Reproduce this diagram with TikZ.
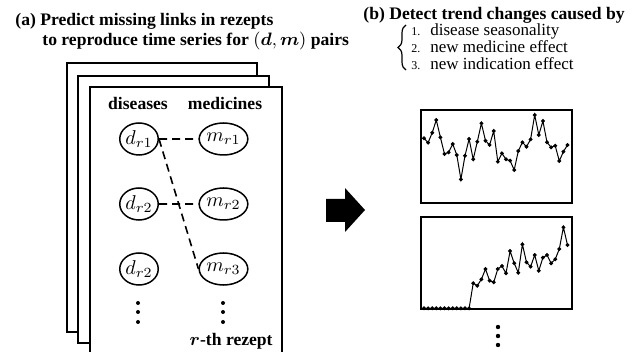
\documentclass[tikz,border=0pt]{standalone}
\usepackage{fontspec}
\setmainfont{Liberation Serif}
\usepackage{amsmath}
\usetikzlibrary{shapes.geometric,decorations.pathreplacing}

\begin{document}
\begin{tikzpicture}[x=0.5pt,y=-0.5pt,
    font=\fontsize{8.8}{10}\selectfont,
    title/.style={anchor=base west, inner sep=0pt, font=\fontsize{8.8}{10}\selectfont\bfseries},
    page/.style={draw, fill=white, line width=1pt},
    oval/.style={draw, ellipse, line width=0.75pt, font=\fontsize{10}{12}\selectfont,
        minimum width=19pt, minimum height=16pt, inner sep=0pt},
    link/.style={dash pattern=on 4pt off 2.5pt, line width=0.8pt},
    frame/.style={draw, line width=1pt},
    series/.style={line width=0.5pt, mark=*, mark size=0.7pt}]

\useasboundingbox (0,0) rectangle (643,352);

% Titles
\node[title] (titleA) at (15,26) {(a) Predict missing links in rezepts};
\node[title] (titleB) at (42,46) {to reproduce time series for $(\boldsymbol{d},\boldsymbol{m})$ pairs};
\node[title] (titleC) at (363,20) {(b) Detect trend changes caused by};

% Causes
\foreach \n/\txt in {1/disease seasonality, 2/new medicine effect, 3/new indication effect}
    \node[anchor=base west, inner sep=0pt, font=\fontsize{8.5}{10}\selectfont] (cause\n) at (411,{18.5+17*\n}) {{\fontsize{6}{7}\selectfont\n.}\hspace{5pt}\txt};
\draw[decorate, decoration={brace, amplitude=4pt}, line width=0.6pt] (406,70) -- (406,25);

% Stack of rezepts
\draw[page] (67,63) rectangle (257,332);
\draw[page] (78,76) rectangle (269,343);
\fill[white] (90,87) rectangle (282,353);
\draw[line width=1pt] (90,353) -- (90,87) -- (282,87) -- (282,353);

% Column heads
\node[anchor=base, font=\fontsize{8.8}{10}\selectfont\bfseries] (dis) at (138,110) {diseases};
\node[anchor=base, font=\fontsize{8.8}{10}\selectfont\bfseries] (med) at (225,110) {medicines};

% Diseases and medicines
\node[oval] (dr1) at (139,139) {$d_{r1}$};
\node[oval] (dr2) at (139,204) {$d_{r2}$};
\node[oval] (dr3) at (139,269) {$d_{r2}$};
\node[oval] (mr1) at (223.5,139) {$m_{r1}$};
\node[oval] (mr2) at (223.5,204) {$m_{r2}$};
\node[oval] (mr3) at (223.5,269) {$m_{r3}$};

% Links
\draw[link] (dr1) -- (mr1)
    (dr2) -- (mr2)
    (dr1.east) -- (mr3.west);

% Vertical dots
\foreach \y in {303,312,322} {
    \fill (138,\y) circle (1pt);
    \fill (223,\y) circle (1pt);
}
\node[anchor=base east, inner sep=0pt, font=\fontsize{8.8}{10}\selectfont\bfseries] (rth) at (273,346) {$\boldsymbol{r}$-th rezept};

% Block arrow
\fill (326,199) -- (345,199) -- (345,188) -- (365,210) -- (345,232) -- (345,222) -- (326,222) -- cycle;

% Time series
\draw[frame] (421,110) rectangle (572,203);
\draw[frame] (421,217) rectangle (572,309);
\draw[series] plot coordinates {(424,138.3) (428.1,142.7) (432.2,132.7) (436.3,120) (440.4,137.3)
    (444.5,154) (448.6,152.3) (452.7,144) (456.8,155) (460.9,179.3) (465,155.7) (469.1,139)
    (473.2,159.3) (477.3,141.7) (481.4,123.3) (485.5,140.7) (489.6,145) (493.7,131) (497.8,161.7)
    (501.9,153.3) (506,159.3) (510.1,160.7) (514.2,170) (518.3,151) (522.4,142.3) (526.5,146.7)
    (530.6,139.3) (534.7,115) (538.8,135) (542.9,121) (547,142.3) (551.1,147.3) (555.2,145.7)
    (559.3,161) (563.4,151.7) (567.5,145)};
\draw[series] plot coordinates {(424,308.3) (428.1,308.3) (432.2,308.3) (436.3,308.3) (440.4,308.3)
    (444.5,308.3) (448.6,308.3) (452.7,308.3) (456.8,308.3) (460.9,308.3) (465,308.3) (469.1,308.3)
    (473.2,283.3) (477.3,285.7) (481.4,279.3) (485.5,269) (489.6,280.7) (493.7,282.3) (497.8,269)
    (501.9,266) (506,273.3) (510.1,251) (514.2,263.3) (518.3,272.7) (522.4,244.3) (526.5,262.3)
    (530.6,266.7) (534.7,255) (538.8,270.7) (542.9,257.7) (547,255) (551.1,263.3) (555.2,259.3)
    (559.3,249) (563.4,227.3) (567.5,245)};
\foreach \y in {327,336,345}
    \fill (498,\y) circle (1.1pt);

\end{tikzpicture}
\end{document}
